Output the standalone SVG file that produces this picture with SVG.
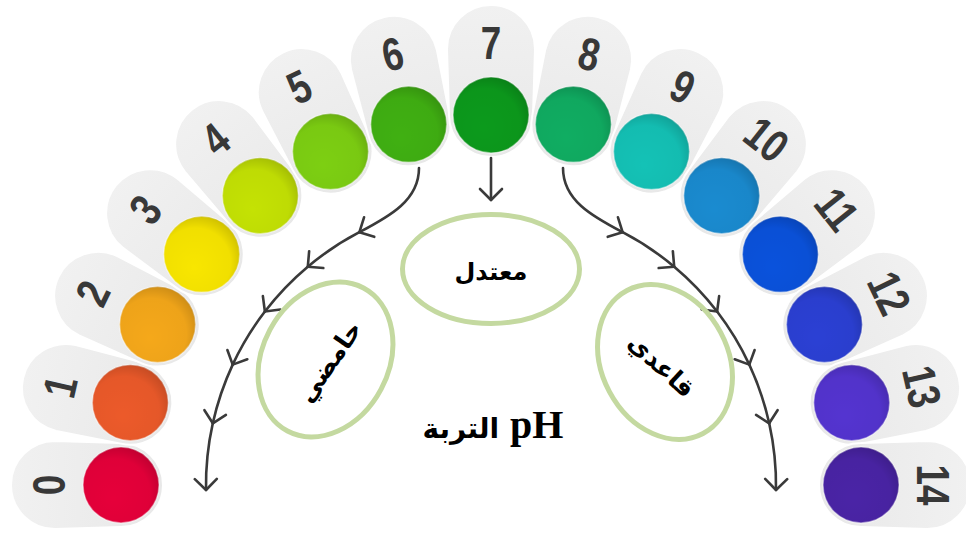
<svg xmlns="http://www.w3.org/2000/svg" xmlns:xlink="http://www.w3.org/1999/xlink" width="966" height="533" viewBox="0 0 966 533">
<style>
.pill{fill:url(#pg);stroke:#ffffff;stroke-width:2}
.num{font-family:"Liberation Sans",Arial,sans-serif;font-weight:bold;font-size:46px;fill:#383838;text-anchor:middle}
.ball{stroke:#ffffff;stroke-opacity:0.45;stroke-width:1.5}
.shade{fill:url(#sh)}
.conn path{fill:none;stroke:#3a3a3a;stroke-width:2.6;stroke-linecap:round;marker-end:url(#ah)}
.ell{fill:none;stroke:#c4d9a0;stroke-width:5}
.ar{font-family:"DejaVu Sans",sans-serif;font-weight:bold;fill:#000000}
</style>
<defs>
<linearGradient id="pg" x1="0" y1="0" x2="1" y2="0">
<stop offset="0" stop-color="#e8e8e8"/>
<stop offset="1" stop-color="#f1f1f1"/>
</linearGradient>
<radialGradient id="sh" cx="0.42" cy="0.6" r="0.62" fx="0.4" fy="0.68">
<stop offset="0" stop-color="#000" stop-opacity="0"/>
<stop offset="0.75" stop-color="#000" stop-opacity="0.03"/>
<stop offset="1" stop-color="#000" stop-opacity="0.16"/>
</radialGradient>
<path id="pillshape" d="M370,-42 L436,-44 A44,44 0 0 1 436,44 L370,42 A42,42 0 0 1 370,-42 Z"/>
<marker id="ah" viewBox="-13 -13 16 26" refX="0" refY="0" markerWidth="16" markerHeight="26" markerUnits="userSpaceOnUse" orient="auto">
<path d="M-11,-11 L0,0 L-11,11" fill="none" stroke="#3a3a3a" stroke-width="2.6" stroke-linecap="round" stroke-linejoin="round"/>
</marker>
</defs>
<rect width="966" height="533" fill="#ffffff"/>

<g id="ph0"><g transform="translate(491,485) rotate(-180)"><use xlink:href="#pillshape" class="pill"/><text class="num" transform="translate(442,0) rotate(90) scale(0.8,1)" y="16">0</text></g><circle class="ball" cx="121" cy="485" r="38" fill="#e6003a"/><circle class="shade" cx="121" cy="485" r="38"/></g>
<g id="ph1"><g transform="translate(491,485) rotate(-167.143)"><use xlink:href="#pillshape" class="pill"/><text class="num" transform="translate(442,0) rotate(90) scale(0.8,1)" y="16">1</text></g><circle class="ball" cx="130.3" cy="402.7" r="38" fill="#ec5a2a"/><circle class="shade" cx="130.3" cy="402.7" r="38"/></g>
<g id="ph2"><g transform="translate(491,485) rotate(-154.286)"><use xlink:href="#pillshape" class="pill"/><text class="num" transform="translate(442,0) rotate(90) scale(0.8,1)" y="16">2</text></g><circle class="ball" cx="157.6" cy="324.5" r="38" fill="#f5a81a"/><circle class="shade" cx="157.6" cy="324.5" r="38"/></g>
<g id="ph3"><g transform="translate(491,485) rotate(-141.429)"><use xlink:href="#pillshape" class="pill"/><text class="num" transform="translate(442,0) rotate(90) scale(0.8,1)" y="16">3</text></g><circle class="ball" cx="201.7" cy="254.3" r="38" fill="#f8e600"/><circle class="shade" cx="201.7" cy="254.3" r="38"/></g>
<g id="ph4"><g transform="translate(491,485) rotate(-128.571)"><use xlink:href="#pillshape" class="pill"/><text class="num" transform="translate(442,0) rotate(90) scale(0.8,1)" y="16">4</text></g><circle class="ball" cx="260.3" cy="195.7" r="38" fill="#c4e204"/><circle class="shade" cx="260.3" cy="195.7" r="38"/></g>
<g id="ph5"><g transform="translate(491,485) rotate(-115.714)"><use xlink:href="#pillshape" class="pill"/><text class="num" transform="translate(442,0) rotate(90) scale(0.8,1)" y="16">5</text></g><circle class="ball" cx="330.5" cy="151.6" r="38" fill="#7dcf12"/><circle class="shade" cx="330.5" cy="151.6" r="38"/></g>
<g id="ph6"><g transform="translate(491,485) rotate(-102.857)"><use xlink:href="#pillshape" class="pill"/><text class="num" transform="translate(442,0) rotate(90) scale(0.8,1)" y="16">6</text></g><circle class="ball" cx="408.7" cy="124.3" r="38" fill="#40b012"/><circle class="shade" cx="408.7" cy="124.3" r="38"/></g>
<g id="ph7"><g transform="translate(491,485) rotate(-90)"><use xlink:href="#pillshape" class="pill"/><text class="num" transform="translate(442,0) rotate(90) scale(0.8,1)" y="16">7</text></g><circle class="ball" cx="491" cy="115" r="38" fill="#0c9a1c"/><circle class="shade" cx="491" cy="115" r="38"/></g>
<g id="ph8"><g transform="translate(491,485) rotate(-77.143)"><use xlink:href="#pillshape" class="pill"/><text class="num" transform="translate(442,0) rotate(90) scale(0.8,1)" y="16">8</text></g><circle class="ball" cx="573.3" cy="124.3" r="38" fill="#10ad62"/><circle class="shade" cx="573.3" cy="124.3" r="38"/></g>
<g id="ph9"><g transform="translate(491,485) rotate(-64.286)"><use xlink:href="#pillshape" class="pill"/><text class="num" transform="translate(442,0) rotate(90) scale(0.8,1)" y="16">9</text></g><circle class="ball" cx="651.5" cy="151.6" r="38" fill="#14c2b6"/><circle class="shade" cx="651.5" cy="151.6" r="38"/></g>
<g id="ph10"><g transform="translate(491,485) rotate(-51.429)"><use xlink:href="#pillshape" class="pill"/><text class="num" transform="translate(442,0) rotate(90) scale(0.8,1)" y="16">10</text></g><circle class="ball" cx="721.7" cy="195.7" r="38" fill="#1a8bd0"/><circle class="shade" cx="721.7" cy="195.7" r="38"/></g>
<g id="ph11"><g transform="translate(491,485) rotate(-38.571)"><use xlink:href="#pillshape" class="pill"/><text class="num" transform="translate(442,0) rotate(90) scale(0.8,1)" y="16">11</text></g><circle class="ball" cx="780.3" cy="254.3" r="38" fill="#0a52dc"/><circle class="shade" cx="780.3" cy="254.3" r="38"/></g>
<g id="ph12"><g transform="translate(491,485) rotate(-25.714)"><use xlink:href="#pillshape" class="pill"/><text class="num" transform="translate(442,0) rotate(90) scale(0.8,1)" y="16">12</text></g><circle class="ball" cx="824.4" cy="324.5" r="38" fill="#2b40d4"/><circle class="shade" cx="824.4" cy="324.5" r="38"/></g>
<g id="ph13"><g transform="translate(491,485) rotate(-12.857)"><use xlink:href="#pillshape" class="pill"/><text class="num" transform="translate(442,0) rotate(90) scale(0.8,1)" y="16">13</text></g><circle class="ball" cx="851.7" cy="402.7" r="38" fill="#5434d0"/><circle class="shade" cx="851.7" cy="402.7" r="38"/></g>
<g id="ph14"><g transform="translate(491,485) rotate(0)"><use xlink:href="#pillshape" class="pill"/><text class="num" transform="translate(442,0) rotate(90) scale(0.8,1)" y="16">14</text></g><circle class="ball" cx="861" cy="485" r="38" fill="#4a24a6"/><circle class="shade" cx="861" cy="485" r="38"/></g>

<g id="connectors" class="conn">
<path d="M491,158 L491,200"/>
<path d="M419,168 C419,200 390.4,216 359.4,232.2"/>
<path d="M359.4,232.2 A285,285 0 0 0 307.8,266.7"/>
<path d="M307.8,266.7 A285,285 0 0 0 264.9,311.5"/>
<path d="M264.9,311.5 A285,285 0 0 0 232.7,364.6"/>
<path d="M232.7,364.6 A285,285 0 0 0 212.8,423.3"/>
<path d="M212.8,423.3 A285,285 0 0 0 206,490"/>
<path d="M563,168 C563,200 591.6,216 622.6,232.2"/>
<path d="M622.6,232.2 A285,285 0 0 1 674.2,266.7"/>
<path d="M674.2,266.7 A285,285 0 0 1 717.1,311.5"/>
<path d="M717.1,311.5 A285,285 0 0 1 749.3,364.6"/>
<path d="M749.3,364.6 A285,285 0 0 1 769.2,423.3"/>
<path d="M769.2,423.3 A285,285 0 0 1 776,490"/>
</g>

<g id="neutral">
<ellipse class="ell" cx="491" cy="269" rx="88.5" ry="54.5"/>
<text class="ar" x="491" y="280" font-size="24" text-anchor="middle">معتدل</text>
</g>
<g id="acidic">
<ellipse class="ell" cx="0" cy="0" rx="63" ry="81" transform="translate(325.5,359.5) rotate(28)"/>
<text class="ar" font-size="25" text-anchor="middle" transform="translate(330,362) rotate(-55)" y="8">حامضي</text>
</g>
<g id="basic">
<ellipse class="ell" cx="0" cy="0" rx="63" ry="81" transform="translate(665,362) rotate(-28)"/>
<text class="ar" font-size="25" text-anchor="middle" transform="translate(661,366) rotate(43)" y="8">قاعدي</text>
</g>
<g id="title">
<text x="510" y="438" font-family="'Liberation Serif','Times New Roman',serif" font-weight="bold" font-size="40" fill="#000">pH</text>
<text class="ar" x="499" y="438" font-size="28" text-anchor="end">التربة</text>
</g>
</svg>
